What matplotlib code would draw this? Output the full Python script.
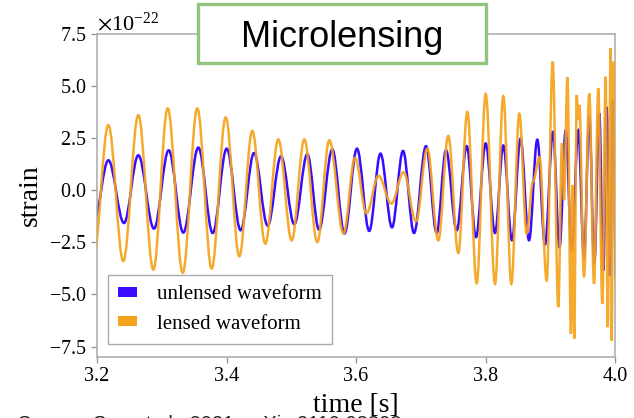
import matplotlib
matplotlib.use('Agg')
import matplotlib.pyplot as plt
from matplotlib.path import Path
from matplotlib.patches import PathPatch, Patch, Rectangle

plt.rcParams['font.family'] = ['Liberation Serif', 'DejaVu Serif']
plt.rcParams['mathtext.fontset'] = 'stix'

# extrema of each waveform: time [s], strain [1e-22]
unlensed_t = [3.1954, 3.2175, 3.2417, 3.2638, 3.2880, 3.3107, 3.3333, 3.3565,
              3.3787, 3.4003, 3.4219, 3.4425, 3.4636, 3.4842, 3.5047, 3.5248,
              3.5429, 3.5634, 3.5822, 3.6015, 3.6204, 3.6378, 3.6556, 3.6726,
              3.6896, 3.7081, 3.7246, 3.7390, 3.7555, 3.7710, 3.7853, 3.8003,
              3.8147, 3.8275, 3.8409, 3.8541, 3.8672, 3.8800, 3.8919, 3.9042,
              3.9143, 3.9239, 3.9331, 3.9433, 3.9521, 3.9603, 3.9680, 3.9757,
              3.9819, 3.9871, 3.9923, 3.9969, 4.0015]
unlensed_h = [-1.44, 1.44, -1.57, 1.68, -1.84, 1.92, -2.03, 2.05,
              -2.05, 2.00, -1.92, 1.79, -1.70, 1.63, -1.63, 1.73,
              -1.89, 1.96, -2.07, 2.00, -1.95, 1.76, -1.78, 1.89,
              -2.05, 2.12, -2.05, 1.92, -1.92, 2.12, -2.25, 2.25,
              -2.05, 2.15, -2.40, 2.48, -2.40, 2.43, -2.60, 2.80,
              -2.74, 2.88, -2.88, 2.88, -3.21, 3.52, -3.52, 3.69,
              -3.85, 4.00, -4.09, 4.33, -4.33]

lensed_t = [3.1943, 3.2175, 3.2406, 3.2638, 3.2870, 3.3092, 3.3324, 3.3549,
            3.3771, 3.3988, 3.4198, 3.4398, 3.4599, 3.4800, 3.5007, 3.5202,
            3.5402, 3.5588, 3.5807, 3.5985, 3.6162, 3.6347, 3.6545, 3.6735,
            3.6927, 3.7101, 3.7271, 3.7425, 3.7580, 3.7719, 3.7864, 3.8003,
            3.8147, 3.8275, 3.8399, 3.8522, 3.8636, 3.8734, 3.8834, 3.8945,
            3.9038, 3.9124, 3.9181, 3.9212, 3.9266, 3.9320, 3.9344, 3.9370,
            3.9409, 3.9429, 3.9449, 3.9521, 3.9603, 3.9676, 3.9742, 3.9804,
            3.9856, 3.9887, 3.9934, 3.9949, 3.9974, 4.0023]
lensed_h = [-3.27, 3.13, -3.40, 3.61, -3.81, 3.93, -3.96, 3.93,
            -3.76, 3.50, -3.17, 2.85, -2.56, 2.44, -2.40, 2.44,
            -2.49, 2.40, -2.07, 1.56, -1.11, 0.70, -0.64, 0.87,
            -1.49, 2.00, -2.40, 2.61, -3.01, 3.76, -4.46, 4.62,
            -4.49, 4.52, -4.49, 3.68, -2.08, 0.43, 1.59, -4.33,
            6.17, -5.61, 2.26, -0.48, 5.43, -6.88, 0.24, -7.12,
            4.57, 3.37, 4.09, -4.17, 4.65, -4.49, 4.89, -5.45,
            5.45, -6.57, 6.81, -7.21, 6.17, -5.29]

series_labels = ['unlensed waveform', 'lensed waveform']
series_colors = ['#3a0cff', '#f5a31c']
scale = 1e-22


def extrema_path(t, h, k=0.3634):
    # smooth cubic segments between successive turning points
    verts = [(t[0], h[0] * scale)]
    codes = [Path.MOVETO]
    for i in range(1, len(t)):
        dt = t[i] - t[i - 1]
        verts += [(t[i - 1] + k * dt, h[i - 1] * scale),
                  (t[i] - k * dt, h[i] * scale),
                  (t[i], h[i] * scale)]
        codes += [Path.CURVE4] * 3
    return Path(verts, codes)


fig = plt.figure(figsize=(6.34, 4.18), dpi=100)
ax = fig.add_axes([97 / 634, 1 - 357 / 418, 518 / 634, 323 / 418])

ax.add_patch(PathPatch(extrema_path(unlensed_t, unlensed_h), fill=False,
                       edgecolor=series_colors[0], lw=1.8, zorder=2))
ax.add_patch(PathPatch(extrema_path(lensed_t, lensed_h), fill=False,
                       edgecolor=series_colors[1], lw=1.8, alpha=0.92, zorder=3))

ax.set_xlim(3.2, 4.0)
ax.set_ylim(-8.0e-22, 7.5e-22)
ax.set_xticks([3.2, 3.4, 3.6, 3.8, 4.0])
ax.set_yticks([v * scale for v in [-7.5, -5.0, -2.5, 0.0, 2.5, 5.0, 7.5]])
ax.ticklabel_format(axis='y', useMathText=True)
ax.tick_params(labelsize=14.5, color='#999999', length=4, width=1)
ax.yaxis.get_offset_text().set_fontsize(16)
for s in ax.spines.values():
    s.set_color('#aaaaaa')
    s.set_linewidth(1.1)

ax.set_xlabel('time [s]', fontsize=20, labelpad=5)
ax.set_ylabel('strain', fontsize=20, labelpad=4)

handles = [Patch(facecolor=c, edgecolor='none', label=l)
           for c, l in zip(series_colors, series_labels)]
ax.legend(handles=handles, loc='lower left',
          bbox_to_anchor=(11 / 518, 13 / 323), borderaxespad=0,
          fontsize=15, fancybox=False, framealpha=1, edgecolor='#aaaaaa',
          handlelength=0.9, handleheight=0.35, handletextpad=0.95,
          borderpad=0.5, labelspacing=0.5)

fig.add_artist(Rectangle((198 / 634, 1 - 63 / 418), 288 / 634, 59 / 418,
                         transform=fig.transFigure, facecolor='white',
                         edgecolor='#93c47d', lw=2.4, zorder=5))
fig.text(342 / 634, 1 - 46.7 / 418, 'Microlensing', family='Liberation Sans',
         fontsize=26, ha='center', va='baseline', zorder=6)

fig.text(18 / 634, -11 / 418, 'Source: Seo et al., 2021, arXiv:2110.03308',
         family='Liberation Sans', fontsize=14.5, color='#222222',
         ha='left', va='baseline')

fig.savefig('out.png', dpi=100)
